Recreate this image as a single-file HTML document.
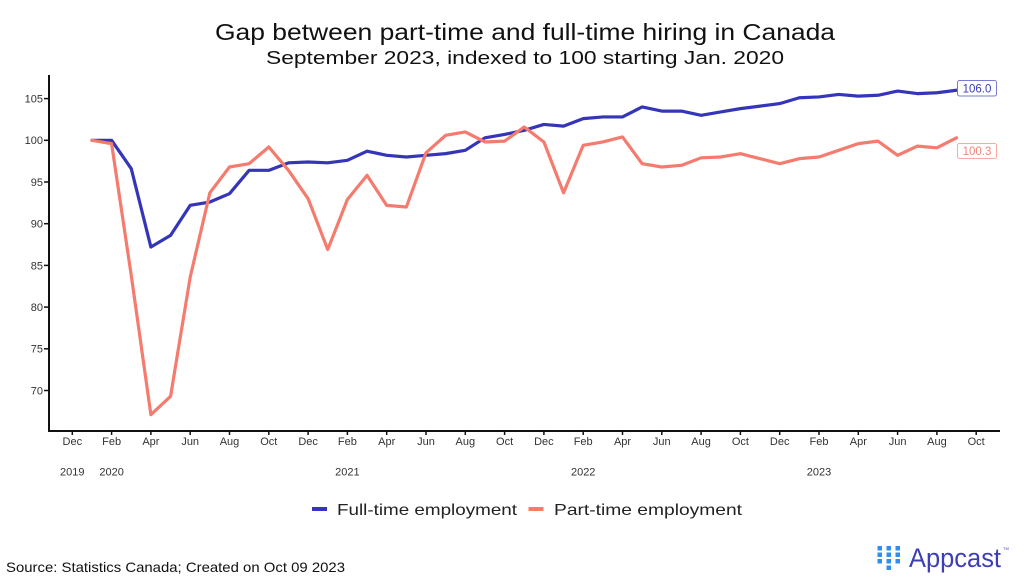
<!DOCTYPE html>
<html>
<head>
<meta charset="utf-8">
<style>
html,body{margin:0;padding:0;background:#fff;}
svg{display:block;}
text{font-family:"Liberation Sans",Arial,sans-serif;}
</style>
</head>
<body>
<svg width="1024" height="582" viewBox="0 0 1024 582" xmlns="http://www.w3.org/2000/svg">
<rect width="1024" height="582" fill="#fff"/>

<!-- Title -->
<text x="215" y="40" font-size="23" fill="#111" textLength="620" lengthAdjust="spacingAndGlyphs">Gap between part-time and full-time hiring in Canada</text>
<text x="266" y="64" font-size="18" fill="#111" textLength="518" lengthAdjust="spacingAndGlyphs">September 2023, indexed to 100 starting Jan. 2020</text>

<!-- Axes -->
<line x1="49" y1="75" x2="49" y2="432" stroke="#111" stroke-width="2"/>
<line x1="48" y1="431" x2="1000" y2="431" stroke="#111" stroke-width="2"/>

<!-- Y ticks -->
<g stroke="#111" stroke-width="1.5">
<line x1="44" y1="98.6" x2="49" y2="98.6"/>
<line x1="44" y1="140.3" x2="49" y2="140.3"/>
<line x1="44" y1="182" x2="49" y2="182"/>
<line x1="44" y1="223.7" x2="49" y2="223.7"/>
<line x1="44" y1="265.4" x2="49" y2="265.4"/>
<line x1="44" y1="307.1" x2="49" y2="307.1"/>
<line x1="44" y1="348.8" x2="49" y2="348.8"/>
<line x1="44" y1="390.5" x2="49" y2="390.5"/>
</g>
<g font-size="11" fill="#333" text-anchor="end">
<text x="43" y="102.5">105</text>
<text x="43" y="144.2">100</text>
<text x="43" y="185.9">95</text>
<text x="43" y="227.6">90</text>
<text x="43" y="269.3">85</text>
<text x="43" y="311">80</text>
<text x="43" y="352.7">75</text>
<text x="43" y="394.4">70</text>
</g>

<!-- X ticks -->
<g stroke="#111" stroke-width="1.5">
<line x1="72.3" y1="431" x2="72.3" y2="435"/>
<line x1="111.6" y1="431" x2="111.6" y2="435"/>
<line x1="150.9" y1="431" x2="150.9" y2="435"/>
<line x1="190.2" y1="431" x2="190.2" y2="435"/>
<line x1="229.5" y1="431" x2="229.5" y2="435"/>
<line x1="268.8" y1="431" x2="268.8" y2="435"/>
<line x1="308.1" y1="431" x2="308.1" y2="435"/>
<line x1="347.4" y1="431" x2="347.4" y2="435"/>
<line x1="386.7" y1="431" x2="386.7" y2="435"/>
<line x1="426" y1="431" x2="426" y2="435"/>
<line x1="465.3" y1="431" x2="465.3" y2="435"/>
<line x1="504.6" y1="431" x2="504.6" y2="435"/>
<line x1="543.9" y1="431" x2="543.9" y2="435"/>
<line x1="583.2" y1="431" x2="583.2" y2="435"/>
<line x1="622.5" y1="431" x2="622.5" y2="435"/>
<line x1="661.8" y1="431" x2="661.8" y2="435"/>
<line x1="701.1" y1="431" x2="701.1" y2="435"/>
<line x1="740.4" y1="431" x2="740.4" y2="435"/>
<line x1="779.7" y1="431" x2="779.7" y2="435"/>
<line x1="819" y1="431" x2="819" y2="435"/>
<line x1="858.3" y1="431" x2="858.3" y2="435"/>
<line x1="897.6" y1="431" x2="897.6" y2="435"/>
<line x1="936.9" y1="431" x2="936.9" y2="435"/>
<line x1="976.2" y1="431" x2="976.2" y2="435"/>
</g>
<g font-size="11" fill="#333" text-anchor="middle">
<text x="72.3" y="445">Dec</text>
<text x="111.6" y="445">Feb</text>
<text x="150.9" y="445">Apr</text>
<text x="190.2" y="445">Jun</text>
<text x="229.5" y="445">Aug</text>
<text x="268.8" y="445">Oct</text>
<text x="308.1" y="445">Dec</text>
<text x="347.4" y="445">Feb</text>
<text x="386.7" y="445">Apr</text>
<text x="426" y="445">Jun</text>
<text x="465.3" y="445">Aug</text>
<text x="504.6" y="445">Oct</text>
<text x="543.9" y="445">Dec</text>
<text x="583.2" y="445">Feb</text>
<text x="622.5" y="445">Apr</text>
<text x="661.8" y="445">Jun</text>
<text x="701.1" y="445">Aug</text>
<text x="740.4" y="445">Oct</text>
<text x="779.7" y="445">Dec</text>
<text x="819" y="445">Feb</text>
<text x="858.3" y="445">Apr</text>
<text x="897.6" y="445">Jun</text>
<text x="936.9" y="445">Aug</text>
<text x="976.2" y="445">Oct</text>
<text x="72.3" y="475.5">2019</text>
<text x="111.6" y="475.5">2020</text>
<text x="347.4" y="475.5">2021</text>
<text x="583.2" y="475.5">2022</text>
<text x="819" y="475.5">2023</text>
</g>

<!-- Full-time series -->
<polyline fill="none" stroke="#3535b8" stroke-width="3.2" stroke-linejoin="round" stroke-linecap="round"
points="91.95,140.3 111.6,140.3 131.25,168.66 150.9,247.05 170.55,235.38 190.2,205.35 209.85,202.02 229.5,193.68 249.15,170.32 268.8,170.32 288.45,162.82 308.1,161.98 327.75,162.82 347.4,160.32 367.05,151.14 386.7,155.31 406.35,156.98 426,155.31 445.65,153.64 465.3,150.31 484.95,137.8 504.6,134.46 524.25,130.29 543.9,124.45 563.55,126.12 583.2,118.62 602.85,116.95 622.5,116.95 642.15,106.94 661.8,111.11 681.45,111.11 701.1,115.28 720.75,111.94 740.4,108.61 760.05,106.11 779.7,103.6 799.35,97.77 819,96.93 838.65,94.43 858.3,96.1 877.95,95.26 897.6,91.09 917.25,93.6 936.9,92.76 956.55,90.26"/>

<!-- Part-time series -->
<polyline fill="none" stroke="#f47b6d" stroke-width="3.2" stroke-linejoin="round" stroke-linecap="round"
points="91.95,140.3 111.6,143.64 131.25,275.41 150.9,414.69 170.55,396.34 190.2,277.08 209.85,192.84 229.5,166.99 249.15,163.65 268.8,146.97 288.45,170.32 308.1,198.68 327.75,249.55 347.4,199.51 367.05,175.33 386.7,205.35 406.35,207.02 426,152.81 445.65,135.3 465.3,131.96 484.95,141.97 504.6,141.13 524.25,126.96 543.9,141.97 563.55,192.84 583.2,145.3 602.85,141.97 622.5,136.96 642.15,163.65 661.8,166.99 681.45,165.32 701.1,157.81 720.75,156.98 740.4,153.64 760.05,158.65 779.7,163.65 799.35,158.65 819,156.98 838.65,150.31 858.3,143.64 877.95,141.13 897.6,155.31 917.25,146.14 936.9,147.81 956.55,137.8"/>

<!-- End labels -->
<rect x="957.5" y="80.5" width="39" height="15.5" rx="2" fill="#fff" stroke="#7a7ad2" stroke-width="1"/>
<text x="977" y="92.3" font-size="11.5" fill="#3b3bbd" text-anchor="middle">106.0</text>
<rect x="957.5" y="143.5" width="39" height="15" rx="2" fill="#fff" stroke="#f6aaa1" stroke-width="1"/>
<text x="977" y="155" font-size="11.5" fill="#f08476" text-anchor="middle">100.3</text>

<!-- Legend -->
<line x1="312" y1="509" x2="327" y2="509" stroke="#3535b8" stroke-width="4"/>
<text x="337" y="515" font-size="16" fill="#222" textLength="180" lengthAdjust="spacingAndGlyphs">Full-time employment</text>
<line x1="528.5" y1="509" x2="543.5" y2="509" stroke="#f47b6d" stroke-width="4"/>
<text x="554" y="515" font-size="16" fill="#222" textLength="188" lengthAdjust="spacingAndGlyphs">Part-time employment</text>

<!-- Source -->
<text x="6" y="572" font-size="14" fill="#111" textLength="339" lengthAdjust="spacingAndGlyphs">Source: Statistics Canada; Created on Oct 09 2023</text>

<!-- Appcast logo -->
<g fill="#2f8ef2">
<rect x="877.5" y="546" width="4.5" height="4.5"/>
<rect x="877.5" y="552.5" width="4.5" height="4.5"/>
<rect x="877.5" y="559" width="4.5" height="4.5"/>
<rect x="886.5" y="546" width="4.5" height="4.5"/>
<rect x="886.5" y="552.5" width="4.5" height="4.5"/>
<rect x="886.5" y="559" width="4.5" height="4.5"/>
<rect x="886.5" y="565.5" width="4.5" height="4.5"/>
<rect x="895.5" y="546" width="4.5" height="4.5"/>
<rect x="895.5" y="552.5" width="4.5" height="4.5"/>
<rect x="895.5" y="559" width="4.5" height="4.5"/>
</g>
<text x="909" y="567" font-size="27" fill="#3d3db8" textLength="92" lengthAdjust="spacingAndGlyphs">Appcast</text>
<text x="1003" y="550" font-size="4" fill="#3d3db8">TM</text>
</svg>
</body>
</html>
